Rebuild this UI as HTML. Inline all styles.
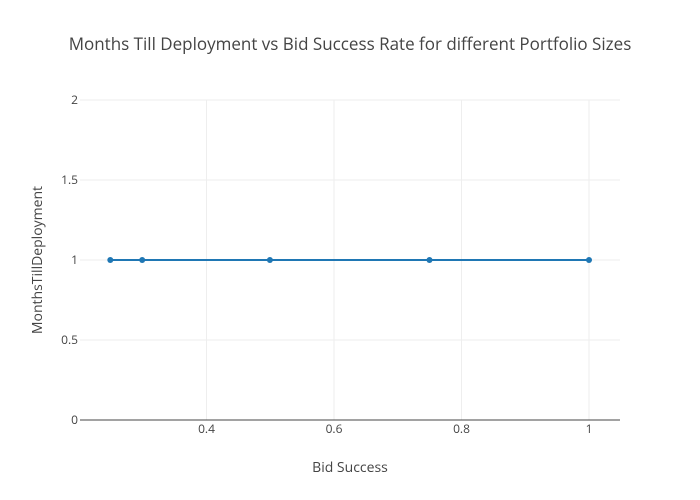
<!DOCTYPE html>
<html><head><meta charset="utf-8"><style>body{margin:0;background:#fff}svg{display:block}</style></head>
<body>
<svg width="700" height="500" xmlns="http://www.w3.org/2000/svg" font-family="'Open Sans','Liberation Sans',sans-serif">
<rect width="700" height="500" fill="#fff"/>
<g stroke="#eee" stroke-width="1">
<line x1="206.5" y1="100" x2="206.5" y2="420"/>
<line x1="334" y1="100" x2="334" y2="420"/>
<line x1="461.5" y1="100" x2="461.5" y2="420"/>
<line x1="589" y1="100" x2="589" y2="420"/>
<line x1="80" y1="100" x2="620" y2="100"/>
<line x1="80" y1="180" x2="620" y2="180"/>
<line x1="80" y1="260" x2="620" y2="260"/>
<line x1="80" y1="340" x2="620" y2="340"/>
</g>
<line x1="80" y1="420" x2="620" y2="420" stroke="#444" stroke-width="1"/>
<polyline points="110.3,260 142.2,260 269.9,260 429.5,260 589,260" fill="none" stroke="#1f77b4" stroke-width="2"/>
<g fill="#1f77b4">
<circle cx="110.3" cy="260" r="3"/><circle cx="142.2" cy="260" r="3"/><circle cx="269.9" cy="260" r="3"/><circle cx="429.5" cy="260" r="3"/><circle cx="589" cy="260" r="3"/>
</g>
<g fill="#444" font-size="12">
<g text-anchor="end">
<text x="78" y="104">2</text><text x="78" y="184">1.5</text><text x="78" y="264">1</text><text x="78" y="344">0.5</text><text x="78" y="424">0</text>
</g>
<g text-anchor="middle">
<text x="206.5" y="433">0.4</text><text x="334" y="433">0.6</text><text x="461.5" y="433">0.8</text><text x="589" y="433">1</text>
</g>
</g>
<text x="350" y="50" text-anchor="middle" font-size="17" fill="#444">Months Till Deployment vs Bid Success Rate for different Portfolio Sizes</text>
<text x="350" y="472" text-anchor="middle" font-size="14" fill="#444">Bid Success</text>
<text transform="translate(42,260) rotate(-90)" text-anchor="middle" font-size="14" fill="#444">MonthsTillDeployment</text>
</svg>
</body></html>
